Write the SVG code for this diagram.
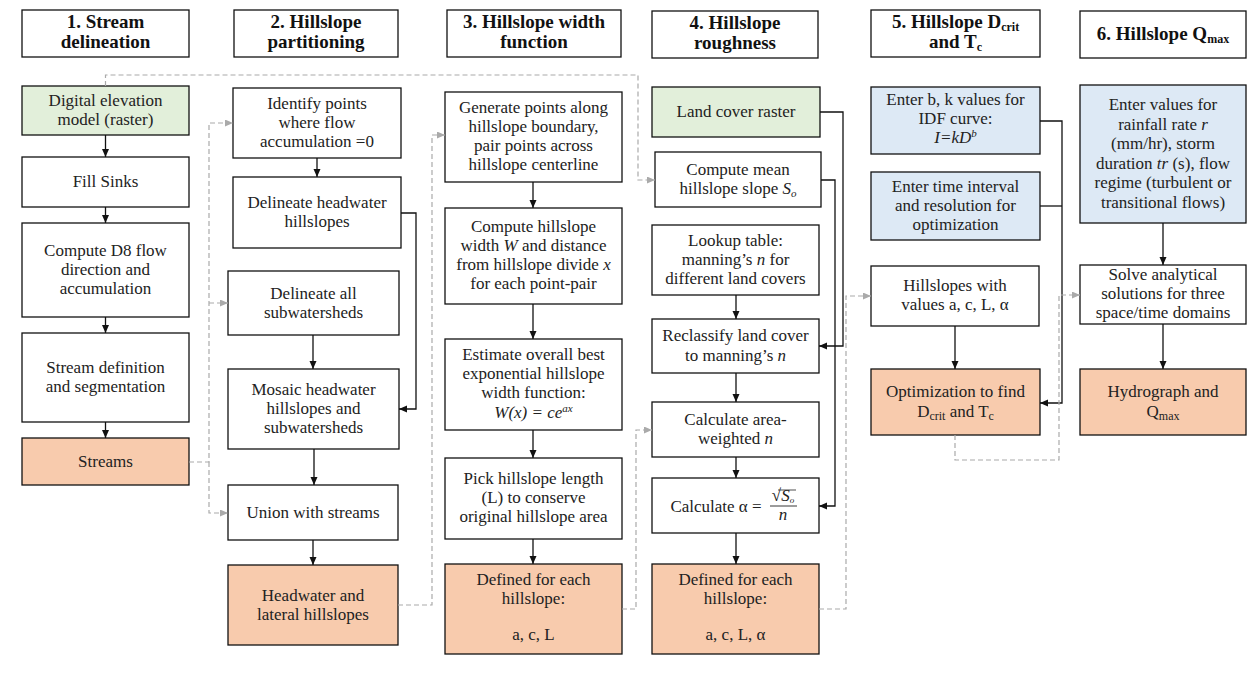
<svg xmlns="http://www.w3.org/2000/svg" width="1255" height="678" viewBox="0 0 1255 678">
<defs>
<marker id="ah" markerUnits="userSpaceOnUse" markerWidth="9" markerHeight="8" refX="8" refY="3.5" orient="auto"><path d="M0,0 L8,3.5 L0,7 z" fill="#111"/></marker>
<marker id="ahg" markerUnits="userSpaceOnUse" markerWidth="9" markerHeight="8" refX="8" refY="3.5" orient="auto"><path d="M0,0 L8,3.5 L0,7 z" fill="#aaa"/></marker>
<style>
.b{fill:#fff;stroke:#111;stroke-width:1.3}
.g{fill:#e2efda;stroke:#111;stroke-width:1.3}
.o{fill:#f8cbad;stroke:#111;stroke-width:1.3}
.u{fill:#dde9f5;stroke:#111;stroke-width:1.3}
text{font-family:"Liberation Serif","DejaVu Serif",serif;font-size:17px;fill:#222;text-anchor:middle}
.h{font-weight:bold;font-size:19px;fill:#111}
.s{stroke:#111;stroke-width:1.3;fill:none;marker-end:url(#ah)}
.sn{stroke:#111;stroke-width:1.3;fill:none}
.d{stroke:#aaa;stroke-width:1.2;fill:none;stroke-dasharray:5,3}
.da{stroke:#aaa;stroke-width:1.2;fill:none;stroke-dasharray:5,3;marker-end:url(#ahg)}
.i{font-style:italic}
</style>
</defs>

<g id="headers">
<g id="h1"><rect class="b" x="22" y="10" width="167" height="47"/><text class="h" x="105.5" y="28">1. Stream</text><text class="h" x="105.5" y="48">delineation</text></g>
<g id="h2"><rect class="b" x="234" y="10" width="164" height="47"/><text class="h" x="316" y="28">2. Hillslope</text><text class="h" x="316" y="48">partitioning</text></g>
<g id="h3"><rect class="b" x="447" y="10" width="174" height="47"/><text class="h" x="534" y="28">3. Hillslope width</text><text class="h" x="534" y="48">function</text></g>
<g id="h4"><rect class="b" x="652" y="11" width="166" height="47"/><text class="h" x="735" y="29">4. Hillslope</text><text class="h" x="735" y="49">roughness</text></g>
<g id="h5"><rect class="b" x="871" y="10" width="169" height="47"/><text class="h" x="955.5" y="28">5. Hillslope D<tspan font-size="12" dy="3">crit</tspan></text><text class="h" x="955.5" y="48">and T<tspan font-size="12" dy="3">c</tspan></text></g>
<g id="h6"><rect class="b" x="1080" y="11" width="166" height="47"/><text class="h" x="1163" y="40">6. Hillslope Q<tspan font-size="12" dy="3">max</tspan></text></g>
</g>

<g id="col1">
<g id="dem"><rect class="g" x="22" y="86" width="167" height="49"/><text x="105.5" y="106">Digital elevation</text><text x="105.5" y="125">model (raster)</text></g>
<g id="fill"><rect class="b" x="22" y="157" width="167" height="50"/><text x="105.5" y="187">Fill Sinks</text></g>
<g id="d8"><rect class="b" x="22" y="223" width="167" height="94"/><text x="105.5" y="256">Compute D8 flow</text><text x="105.5" y="275">direction and</text><text x="105.5" y="294">accumulation</text></g>
<g id="sdef"><rect class="b" x="22" y="333" width="167" height="89"/><text x="105.5" y="373">Stream definition</text><text x="105.5" y="392">and segmentation</text></g>
<g id="streams"><rect class="o" x="22" y="438" width="167" height="47"/><text x="105.5" y="467">Streams</text></g>
</g>

<g id="col2">
<g id="ident"><rect class="b" x="233" y="88" width="168" height="70"/><text x="317" y="109">Identify points</text><text x="317" y="128">where flow</text><text x="317" y="147">accumulation =0</text></g>
<g id="delhw"><rect class="b" x="233" y="177" width="168" height="71"/><text x="317" y="208">Delineate headwater</text><text x="317" y="227">hillslopes</text></g>
<g id="delall"><rect class="b" x="228" y="271" width="171" height="64"/><text x="313.5" y="299">Delineate all</text><text x="313.5" y="318">subwatersheds</text></g>
<g id="mosaic"><rect class="b" x="228" y="369" width="171" height="80"/><text x="313.5" y="395">Mosaic headwater</text><text x="313.5" y="414">hillslopes and</text><text x="313.5" y="433">subwatersheds</text></g>
<g id="union"><rect class="b" x="228" y="485" width="170" height="55"/><text x="313" y="518">Union with streams</text></g>
<g id="hwlat"><rect class="o" x="228" y="565" width="170" height="80"/><text x="313" y="601">Headwater and</text><text x="313" y="620">lateral hillslopes</text></g>
</g>

<g id="col3">
<g id="gen"><rect class="b" x="445" y="92" width="177" height="90"/><text x="533.5" y="113">Generate points along</text><text x="533.5" y="132">hillslope boundary,</text><text x="533.5" y="151">pair points across</text><text x="533.5" y="170">hillslope centerline</text></g>
<g id="cw"><rect class="b" x="445" y="208" width="177" height="96"/><text x="533.5" y="232">Compute hillslope</text><text x="533.5" y="251">width <tspan class="i">W</tspan> and distance</text><text x="533.5" y="270">from hillslope divide <tspan class="i">x</tspan></text><text x="533.5" y="289">for each point-pair</text></g>
<g id="est"><rect class="b" x="445" y="339" width="177" height="91"/><text x="533.5" y="360">Estimate overall best</text><text x="533.5" y="379">exponential hillslope</text><text x="533.5" y="398">width function:</text><text x="533.5" y="418" class="i">W(x) = ce<tspan font-size="11" dy="-6">ax</tspan></text></g>
<g id="pick"><rect class="b" x="445" y="458" width="177" height="81"/><text x="533.5" y="484">Pick hillslope length</text><text x="533.5" y="503">(L) to conserve</text><text x="533.5" y="522">original hillslope area</text></g>
<g id="def3"><rect class="o" x="445" y="564" width="177" height="90"/><text x="533.5" y="585">Defined for each</text><text x="533.5" y="604">hillslope:</text><text x="533.5" y="640">a, c, L</text></g>
</g>

<g id="col4">
<g id="land"><rect class="g" x="652" y="87" width="168" height="50"/><text x="736" y="117">Land cover raster</text></g>
<g id="mean"><rect class="b" x="655" y="152" width="166" height="55"/><text x="738" y="175">Compute mean</text><text x="738" y="194">hillslope slope <tspan class="i">S</tspan><tspan class="i" font-size="11" dy="3">o</tspan></text></g>
<g id="lookup"><rect class="b" x="652" y="225" width="167" height="70"/><text x="735.5" y="246">Lookup table:</text><text x="735.5" y="265">manning’s <tspan class="i">n</tspan> for</text><text x="735.5" y="284">different land covers</text></g>
<g id="reclass"><rect class="b" x="652" y="319" width="167" height="54"/><text x="735.5" y="341">Reclassify land cover</text><text x="735.5" y="361">to manning’s <tspan class="i">n</tspan></text></g>
<g id="area"><rect class="b" x="652" y="402" width="167" height="55"/><text x="735.5" y="425">Calculate area-</text><text x="735.5" y="444">weighted <tspan class="i">n</tspan></text></g>
<g id="alpha"><rect class="b" x="652" y="478" width="167" height="55"/><text x="716" y="512">Calculate α =</text><text x="783" y="501" font-size="12.5">√<tspan class="i">S</tspan><tspan class="i" font-size="9" dy="2">o</tspan></text><line x1="770" y1="506" x2="797" y2="506" stroke="#222" stroke-width="0.9"/><line x1="778" y1="490" x2="796" y2="490" stroke="#222" stroke-width="0.8"/><text x="783" y="520" font-size="12.5" class="i">n</text></g>
<g id="def4"><rect class="o" x="652" y="564" width="167" height="90"/><text x="735.5" y="585">Defined for each</text><text x="735.5" y="604">hillslope:</text><text x="735.5" y="640">a, c, L, α</text></g>
</g>

<g id="col5">
<g id="idf"><rect class="u" x="871" y="87" width="169" height="67"/><text x="955.5" y="105">Enter b, k values for</text><text x="955.5" y="124">IDF curve:</text><text x="955.5" y="143" class="i">I=kD<tspan font-size="11" dy="-6">b</tspan></text></g>
<g id="tint"><rect class="u" x="871" y="172" width="169" height="68"/><text x="955.5" y="192">Enter time interval</text><text x="955.5" y="211">and resolution for</text><text x="955.5" y="230">optimization</text></g>
<g id="hvals"><rect class="b" x="871" y="266" width="168" height="60"/><text x="955" y="291">Hillslopes with</text><text x="955" y="310">values a, c, L, α</text></g>
<g id="opt"><rect class="o" x="871" y="369" width="169" height="66"/><text x="955.5" y="397">Optimization to find</text><text x="955.5" y="417">D<tspan font-size="12" dy="3">crit</tspan><tspan dy="-3"> and T</tspan><tspan font-size="12" dy="3">c</tspan></text></g>
</g>

<g id="col6">
<g id="rain"><rect class="u" x="1080" y="85" width="166" height="138"/><text x="1163" y="110">Enter values for</text><text x="1163" y="129.5">rainfall rate <tspan class="i">r</tspan></text><text x="1163" y="149">(mm/hr), storm</text><text x="1163" y="168.5">duration <tspan class="i">tr</tspan> (s), flow</text><text x="1163" y="188">regime (turbulent or</text><text x="1163" y="207.5">transitional flows)</text></g>
<g id="solve"><rect class="b" x="1080" y="265" width="166" height="59"/><text x="1163" y="280">Solve analytical</text><text x="1163" y="299">solutions for three</text><text x="1163" y="318">space/time domains</text></g>
<g id="hydro"><rect class="o" x="1080" y="369" width="166" height="66"/><text x="1163" y="397">Hydrograph and</text><text x="1163" y="417">Q<tspan font-size="12" dy="3">max</tspan></text></g>
</g>

<g id="connectors">
<path class="s" d="M105.5,135 V157"/>
<path class="s" d="M105.5,207 V223"/>
<path class="s" d="M105.5,317 V333"/>
<path class="s" d="M105.5,422 V438"/>
<path class="s" d="M317,158 V177"/>
<path class="s" d="M313,335 V369"/>
<path class="s" d="M314,449 V485"/>
<path class="s" d="M313,540 V565"/>
<path class="s" d="M401,213 H416 V409 H399"/>
<path class="s" d="M533,182 V208"/>
<path class="s" d="M533,304 V339"/>
<path class="s" d="M533,430 V458"/>
<path class="s" d="M533,539 V564"/>
<path class="s" d="M736,295 V319"/>
<path class="s" d="M736,373 V402"/>
<path class="s" d="M736,457 V478"/>
<path class="s" d="M736,533 V564"/>
<path class="s" d="M820,112 H843 V346 H819"/>
<path class="s" d="M821,180 H835 V506 H819"/>
<path class="s" d="M955,326 V369"/>
<path class="s" d="M1040,121 H1062 V403 H1040"/>
<path class="sn" d="M1040,206 H1062"/>
<path class="s" d="M1163,223 V265"/>
<path class="s" d="M1163,324 V369"/>

<path class="da" d="M105.5,86 V75 H638 V180 H655"/>
<path class="da" d="M189,462 H209 V123 H233"/>
<path class="da" d="M209,303 H228"/>
<path class="da" d="M209,462 V513 H228"/>
<path class="da" d="M398,605 H432 V135 H445"/>
<path class="da" d="M622,609 H636 V430 H652"/>
<path class="da" d="M819,609 H846 V296 H871"/>
<path class="da" d="M955,435 V460 H1059 V295 H1080"/>
</g>
</svg>
